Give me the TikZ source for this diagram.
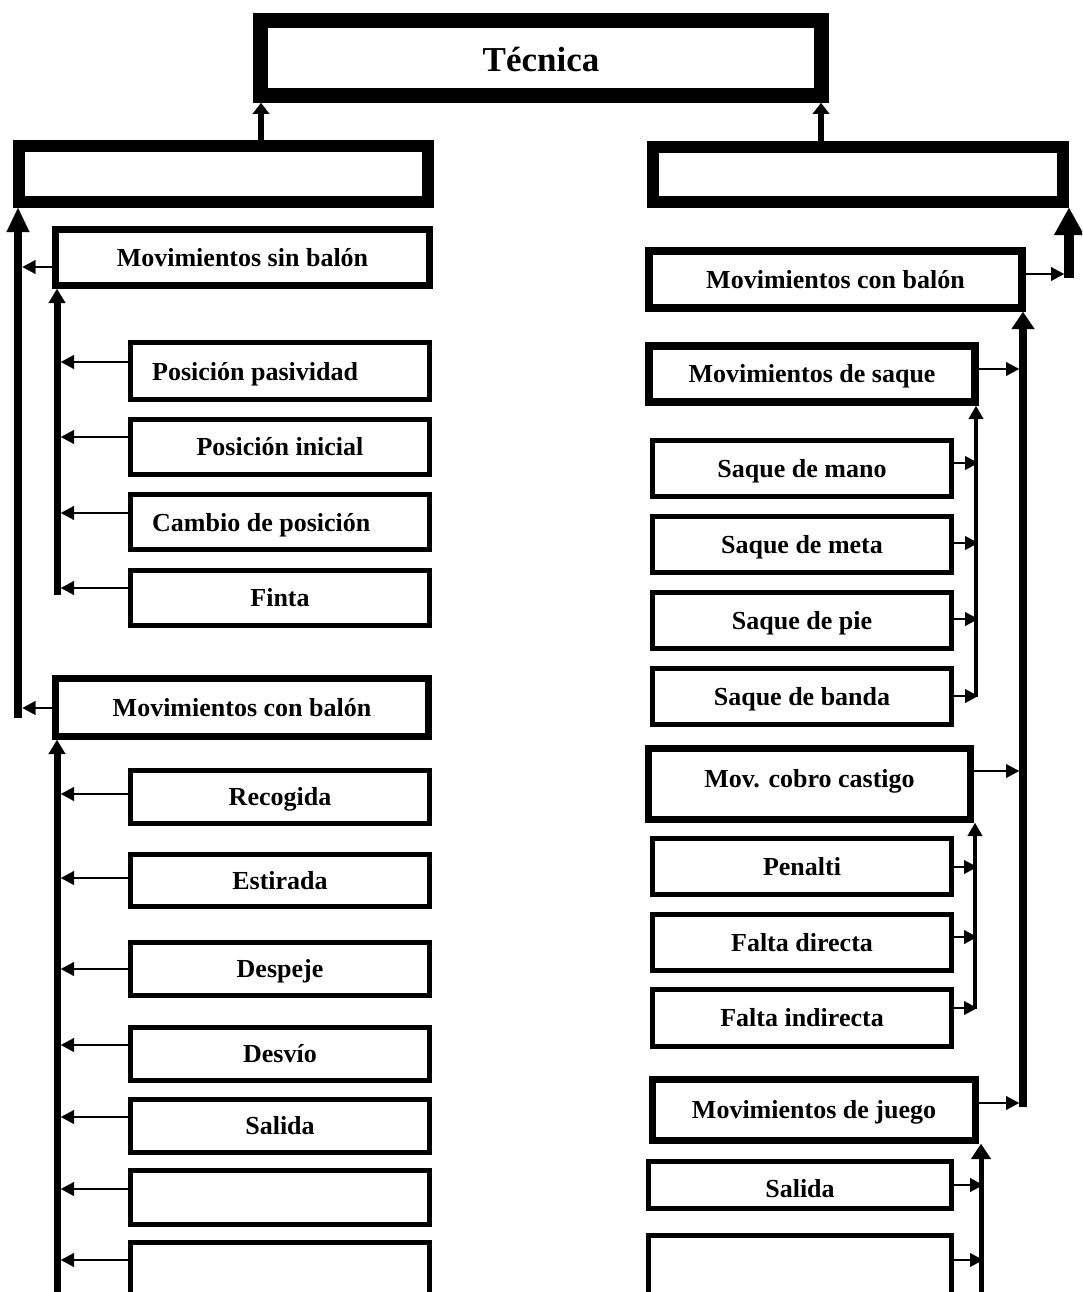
\documentclass[tikz,border=0pt]{standalone}
\usepackage{fontspec}
\setmainfont{Liberation Serif}
\usetikzlibrary{arrows.meta,calc}
\newcommand\myLarr[3]{\draw[thinarr] ($(#1.west)+(0,#2)$) -- ($(#1.west -| #3)+(0,#2)$);}
\newcommand\myRarr[3]{\draw[thinarr] ($(#1.east)+(0,#2)$) -- ($(#1.east -| #3)+(0,#2)$);}
\begin{document}
\begin{tikzpicture}[x=1pt,y=-1pt,
  bx/.style={draw, rectangle, line width=#1, inner sep=0pt,
    font=\bfseries\fontsize{26}{30}\selectfont, text height=17pt, text depth=0pt},
  lab/.style={inner sep=0pt, font=\bfseries\fontsize{26}{30}\selectfont},
  lsub/.style={bx=5pt, minimum width=299pt},
  rsub/.style={bx=5pt, minimum width=299pt},
  thinarr/.style={line width=1.8pt, -{Triangle[length=13pt,width=14pt,line width=0.1pt]}},
  vouter/.style={line width=8pt, -{Triangle[length=24pt,width=23pt,line width=0.1pt]}},
  vin/.style={line width=7pt, -{Triangle[length=14pt,width=17pt,line width=0.1pt]}},
  vtop/.style={line width=6pt, -{Triangle[length=11pt,width=17pt,line width=0.1pt]}},
  vright/.style={line width=8pt, -{Triangle[length=17pt,width=23pt,line width=0.1pt]}},
  vsub/.style={line width=4pt, -{Triangle[length=13pt,width=15pt,line width=0.1pt]}},
  vsubb/.style={line width=5pt, -{Triangle[length=15pt,width=20pt,line width=0.1pt]}},
  vbig/.style={line width=10pt, -{Triangle[length=27pt,width=30pt,line width=0.1pt]}}
]
\fill[white] (0,0) rectangle (1082,1292);
\path[use as bounding box] (0,0) rectangle (1082,1292);
\clip (0,0) rectangle (1082,1292);

% top level
\node[bx=15pt, minimum width=561pt, minimum height=75pt,
  font=\bfseries\fontsize{35}{40}\selectfont, text height=28pt] (T) at (541,58) {Técnica};
\node[bx=12pt, minimum width=409pt, minimum height=56pt] (L1) at (223.5,174) {};
\node[bx=12pt, minimum width=410pt, minimum height=55pt] (R1) at (858,174.5) {};

\coordinate (ta) at ([xshift=8pt]T.south west);
\coordinate (tb) at ([xshift=-8pt]T.south east);
\draw[vtop] (ta |- L1.north) -- (ta);
\draw[vtop] (tb |- R1.north) -- (tb);

% left column
\node[bx=7pt, minimum width=374pt, minimum height=56pt] (L2) at (242.5,257.5) {Movimientos sin balón};
\node[bx=7pt, minimum width=373pt, minimum height=58pt] (L3) at (242,707.5) {Movimientos con balón};

\node[lsub, minimum height=57pt] (ppas) at (280,371) {};
\node[lab, anchor=base west] (ppast) at (152,380) {Posición pasividad};
\node[lsub, minimum height=55pt] (pini) at (280,447) {Posición inicial};
\node[lsub, minimum height=55pt] (cpos) at (280,522) {};
\node[lab, anchor=base west] (cpost) at (152,531) {Cambio de posición};
\node[lsub, minimum height=55pt] (fint) at (280,598) {Finta};

\node[lsub, minimum height=53pt] (reco) at (280,797) {Recogida};
\node[lsub, minimum height=52pt] (esti) at (280,880.5) {Estirada};
\node[lsub, minimum height=53pt] (desp) at (280,969) {Despeje};
\node[lsub, minimum height=53pt] (desv) at (280,1054) {Desvío};
\node[lsub, minimum height=53pt] (lsal) at (280,1126) {Salida};
\node[lsub, minimum height=54pt] (lem1) at (280,1197.5) {};
\node[lsub, minimum height=55pt] (lem2) at (280,1270) {};

\coordinate (ov) at (18,718);
\coordinate (ovt) at (22.5,0);
\draw[vouter] (ov) -- (ov |- L1.south);
\myLarr{L2}{9.5}{ovt}
\myLarr{L3}{0.5}{ovt}

\coordinate (lv1) at (57,595);
\coordinate (lv2) at (57,1300);
\coordinate (lt) at (61,0);
\draw[vin] (lv1) -- (lv1 |- L2.south);
\draw[vin] (lv2) -- (lv2 |- L3.south);
\myLarr{ppas}{-9}{lt}
\myLarr{pini}{-10}{lt}
\myLarr{cpos}{-9}{lt}
\myLarr{fint}{-10}{lt}
\myLarr{reco}{-3}{lt}
\myLarr{esti}{-2.5}{lt}
\myLarr{desp}{0}{lt}
\myLarr{desv}{-9}{lt}
\myLarr{lsal}{-9}{lt}
\myLarr{lem1}{-8.5}{lt}
\myLarr{lem2}{-10}{lt}

% right column
\node[bx=8pt, minimum width=373pt, minimum height=57pt] (R2) at (835.5,279.5) {Movimientos con balón};
\node[bx=8pt, minimum width=326pt, minimum height=56pt] (R3) at (812,374) {Movimientos de saque};
\node[rsub, minimum height=56pt] (smano) at (802,468.5) {Saque de mano};
\node[rsub, minimum height=56pt] (smeta) at (802,544.5) {Saque de meta};
\node[rsub, minimum height=56pt] (spie) at (802,620.5) {Saque de pie};
\node[rsub, minimum height=56pt] (sband) at (802,696.5) {Saque de banda};

\node[bx=7pt, minimum width=322pt, minimum height=71pt, text height=6pt] (R4) at (809.5,784) {Mov. cobro castigo};
\node[rsub, minimum height=56pt] (pena) at (802,866.5) {Penalti};
\node[rsub, minimum height=56pt] (fdir) at (802,942.5) {Falta directa};
\node[rsub, minimum height=57pt] (find) at (802,1018) {Falta indirecta};

\node[bx=7pt, minimum width=323pt, minimum height=61pt] (R5) at (814,1110) {Movimientos de juego};
\node[bx=5pt, minimum width=303pt, minimum height=47pt, text height=24pt] (rsal) at (800,1185) {Salida};
\node[bx=5pt, minimum width=303pt, minimum height=62pt] (rem) at (800,1266.5) {};

% big arrow into right mid box
\coordinate (bg) at (1069,278);
\coordinate (bgt) at (1064,0);
\draw[vbig] (bg) -- (bg |- R1.south);
\myRarr{R2}{-5.5}{bgt}

% main right vertical
\coordinate (rv) at (1023,1107);
\coordinate (rvt) at (1019,0);
\draw[vright] (rv) -- (rv |- R2.south);
\myRarr{R3}{-5}{rvt}
\myRarr{R4}{-13}{rvt}
\myRarr{R5}{-7}{rvt}

% sub verticals
\coordinate (rv1) at (976,697);
\coordinate (rv1t) at (978,0);
\draw[vsub] (rv1) -- (rv1 |- R3.south);
\myRarr{smano}{-5.5}{rv1t}
\myRarr{smeta}{-1.5}{rv1t}
\myRarr{spie}{-1.5}{rv1t}
\myRarr{sband}{-0.5}{rv1t}

\coordinate (rv2) at (975,1009);
\coordinate (rv2t) at (977,0);
\draw[vsub] (rv2) -- (rv2 |- R4.south);
\myRarr{pena}{0.5}{rv2t}
\myRarr{fdir}{-5.5}{rv2t}
\myRarr{find}{-10}{rv2t}

\coordinate (rv3) at (981,1300);
\coordinate (rv3t) at (983,0);
\draw[vsubb] (rv3) -- (rv3 |- R5.south);
\myRarr{rsal}{0}{rv3t}
\myRarr{rem}{-6.5}{rv3t}
\end{tikzpicture}
\end{document}
